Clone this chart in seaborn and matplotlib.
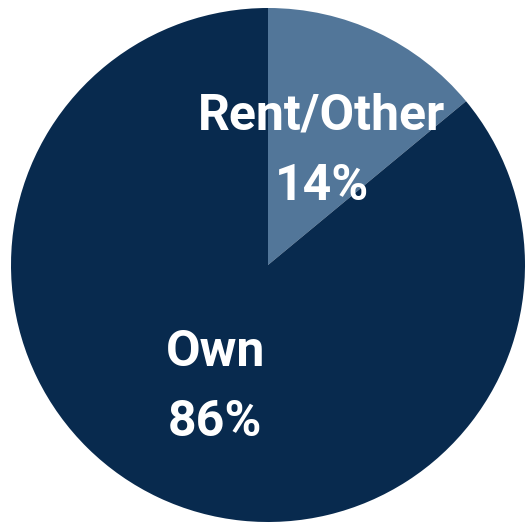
import seaborn as sns
import matplotlib.pyplot as plt

# data
labels = ["Rent/Other", "Own"]
shares = [14, 86]
colors = ["#527699", "#082A4E"]

sns.set_style("white")
plt.rcParams['font.family'] = ['Roboto', 'DejaVu Sans']

fig = plt.figure(figsize=(5.26, 5.24), dpi=100)
ax = fig.add_axes([11 / 526, 2 / 524, 514 / 526, 514 / 524])

ax.pie(shares, colors=colors, startangle=90, counterclock=False,
       wedgeprops={"linewidth": 0})
ax.set_xlim(-1, 1)
ax.set_ylim(-1, 1)
ax.set_aspect("equal")
ax.axis("off")

# label positions (data coords)
label_pos = [(0.21, 0.58, 0.305), (-0.205, -0.34, -0.612)]
for (lx, ly, py), lab, val in zip(label_pos, labels, shares):
    ax.text(lx, ly, lab, ha="center", va="center", color="white",
            fontsize=36, fontweight="bold")
    ax.text(lx, py, f"{val}%", ha="center", va="center", color="white",
            fontsize=36, fontweight="bold")

fig.savefig("out.png", dpi=100)
